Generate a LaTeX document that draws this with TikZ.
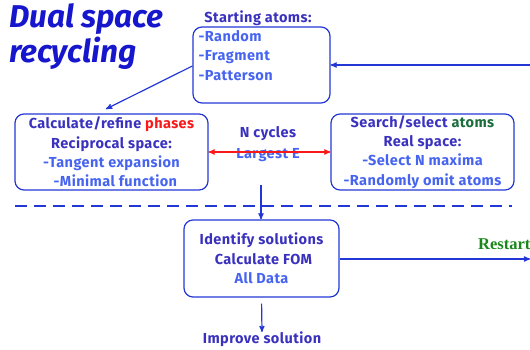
\documentclass[tikz,border=0pt]{standalone}
\usepackage{fontspec}
\setmainfont{Fira Sans}
\newfontfamily\boxfont[LetterSpace=3]{Fira Sans}
\newfontfamily\restartfont{Liberation Serif}
\usepackage{xcolor}
\usepackage{tikz}
\usetikzlibrary{arrows,shapes,backgrounds,fit}

\definecolor{titleblue}{RGB}{22,22,205}
\definecolor{headblue}{RGB}{58,50,190}
\definecolor{itemblue}{RGB}{70,100,240}
\definecolor{lineblue}{RGB}{35,55,215}
\definecolor{phasered}{RGB}{250,25,25}
\definecolor{atomgreen}{RGB}{25,110,60}
\definecolor{restartgreen}{RGB}{25,135,25}

\begin{document}
\begin{tikzpicture}[x=1pt,y=-1pt]
      \tikzstyle{box}=[draw=lineblue, line width=1.2pt, rounded corners=9pt, inner sep=0pt]
      \tikzstyle{box_text}=[font=\boxfont\bfseries\fontsize{14.5}{19.3}\selectfont, text=headblue, align=center, inner sep=0pt]
      \tikzstyle{item_text}=[box_text, text=itemblue]
      \tikzstyle{flow}=[draw=lineblue, line width=1.2pt, ->, >=stealth']
      \tikzstyle{cycle}=[draw=phasered, line width=1.2pt, <->, >=stealth']

      \useasboundingbox (0,0) rectangle (530,350);

      % title
      \node (title) [anchor=north west, align=left, inner sep=0pt, text=titleblue,
        font=\bfseries\itshape\fontsize{31.5}{35}\selectfont] at (9,3) {Dual space\\recycling};

      % starting atoms
      \node [box_text] (start_head) at (258,18) {Starting atoms:};
      \node [box, minimum width=137pt, minimum height=76pt] (start_box) at (261.5,65) {};
      \node [item_text, anchor=north west, align=left] (start_list)
        at ([xshift=6pt,yshift=-4pt]start_box.north west) {-Random\\-Fragment\\-Patterson};

      % the two spaces
      \node [box, minimum width=193pt, minimum height=76pt] (phase_box) at (111.5,152) {};
      \node [box_text] (phase_text) at (phase_box) {Calculate/refine \textcolor{phasered}{phases}\\Reciprocal space:\\
        \textcolor{itemblue}{-Tangent expansion}\\\textcolor{itemblue}{\ \ -Minimal function}};

      \node [box, minimum width=183pt, minimum height=76pt] (atom_box) at (422.5,152) {};
      \node [box_text] (atom_text) at (atom_box) {Search/select \textcolor{atomgreen}{atoms}\\Real space:\\
        \textcolor{itemblue}{-Select N maxima}\\\textcolor{itemblue}{-Randomly omit atoms}};

      \node [box_text] (n_cycles) at (268,134) {N cycles};
      \node [item_text] (largest) at (268,155) {Largest E};
      \draw [cycle] (phase_box) -- (atom_box);

      % solutions
      \coordinate (dash_l) at (15,206);
      \coordinate (dash_r) at (512,206);
      \draw [lineblue, line width=1.2pt, dash pattern=on 12pt off 7pt] (dash_l) -- (dash_r);

      \node [box, minimum width=155pt, minimum height=77pt] (fom_box) at (261.5,258.5) {};
      \node [box_text] (fom_text) at (fom_box) {Identify solutions\\\ Calculate FOM\\\textcolor{itemblue}{All Data}};

      \node [box_text, anchor=north] (improve) at (262,332) {Improve solution};

      % connectors
      \coordinate (restart_in) at (530,65);
      \coordinate (phase_in) at (106,109);
      \coordinate (cycle_out) at (261,185);
      \coordinate (restart_out) at (530,259);

      \draw [flow] (restart_in) -- (start_box.east |- restart_in);
      \draw [flow] (start_box.west |- 0,66) -- (phase_in);
      \draw [flow] (cycle_out) -- (cycle_out |- fom_box.north);
      \draw [flow] (fom_box.east |- restart_out) -- (restart_out);
      \node [anchor=west, text=restartgreen, inner sep=0pt,
        font=\restartfont\bfseries\fontsize{16.5}{18}\selectfont] (restart) at (478,244) {Restart};
      \draw [flow, shorten <=6pt] (fom_box.south) -- (improve.north);

\end{tikzpicture}
\end{document}
